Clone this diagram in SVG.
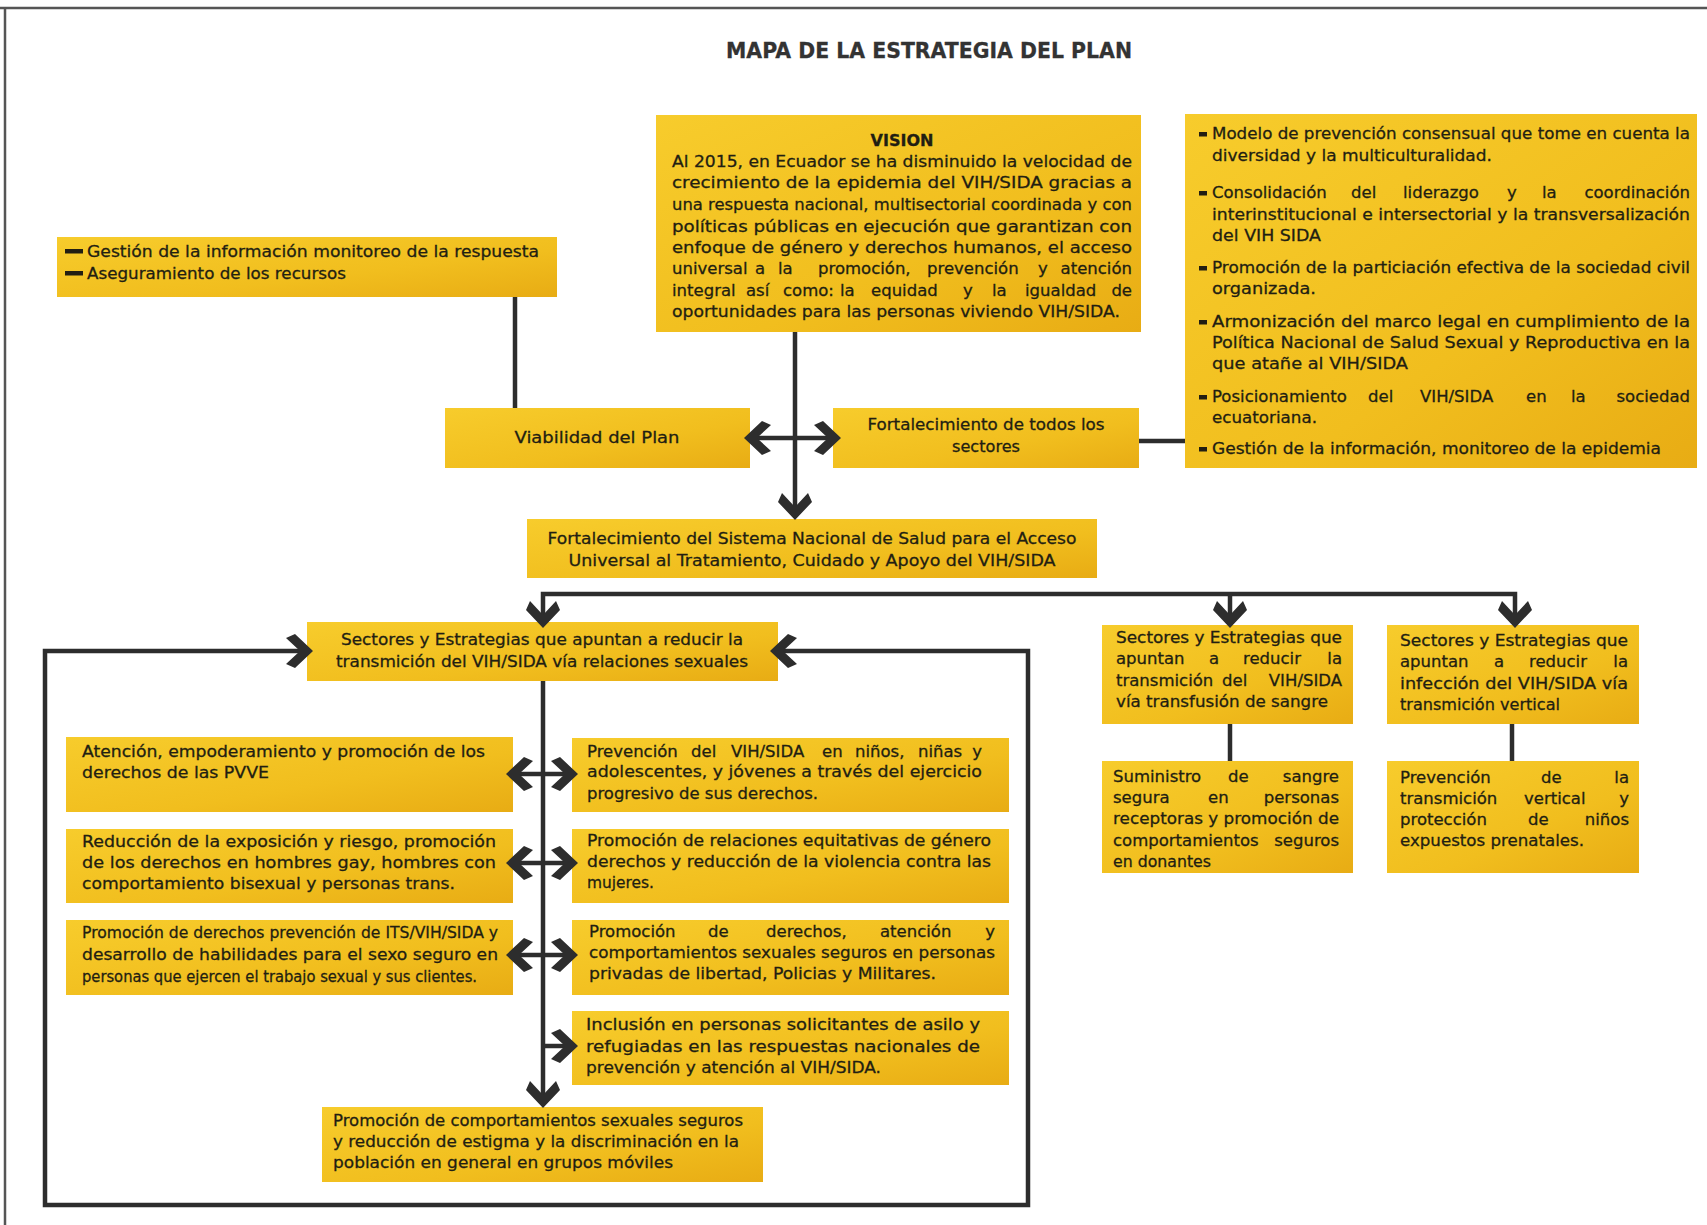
<svg xmlns="http://www.w3.org/2000/svg" width="1707" height="1225" viewBox="0 0 1707 1225">
<defs>
<linearGradient id="gold" x1="0" y1="0" x2="1" y2="1">
<stop offset="0" stop-color="#F7CC2C"/>
<stop offset="0.6" stop-color="#F1BE1E"/>
<stop offset="1" stop-color="#E8AC14"/>
</linearGradient>
<marker id="chev" markerUnits="userSpaceOnUse" markerWidth="40" markerHeight="40" viewBox="-30 -20 40 40" refX="-4" refY="0" orient="auto-start-reverse" overflow="visible">
<path d="M0,0 L-18,-17 L-27,-13 L-13,0 L-27,13 L-18,17 Z" fill="#2d2d2d"/>
</marker>
<style>
.box{fill:url(#gold);}
.t{font-family:"DejaVu Sans","Liberation Sans",sans-serif;font-size:16.5px;fill:#221e12;stroke:#221e12;stroke-width:0.3px;}
.c{text-anchor:middle;}
.e{text-anchor:end;}
.b{font-weight:bold;}
.bul{fill:#221e12;}
.ln{fill:none;stroke:#2d2d2d;stroke-width:4.5;}
.ar{marker-end:url(#chev);}
.ar2{marker-start:url(#chev);marker-end:url(#chev);}
</style>
</defs>
<rect x="0" y="0" width="1707" height="1225" fill="#ffffff"/>
<g id="frame">
<line x1="0" y1="8" x2="1707" y2="8" stroke="#555" stroke-width="2.5"/>
<line x1="5" y1="8" x2="5" y2="1225" stroke="#555" stroke-width="2.5"/>
</g>
<g id="title">
<text class="t c b" x="929" y="58" style="font-size:22px;fill:#333;stroke:#333" textLength="406" lengthAdjust="spacingAndGlyphs">MAPA DE LA ESTRATEGIA DEL PLAN</text>
</g>

<g id="vision">
<rect class="box" x="656" y="115" width="485" height="217"/>
<text class="t c b" x="902" y="146" textLength="63" lengthAdjust="spacingAndGlyphs">VISION</text>
<text class="t" x="672" y="167" textLength="460" lengthAdjust="spacingAndGlyphs">Al 2015, en Ecuador se ha disminuido la velocidad de</text>
<text class="t" x="672" y="188" textLength="460" lengthAdjust="spacingAndGlyphs">crecimiento de la epidemia del VIH/SIDA gracias a</text>
<text class="t" x="672" y="210" textLength="460" lengthAdjust="spacingAndGlyphs">una respuesta nacional, multisectorial coordinada y con</text>
<text class="t" x="672" y="232" textLength="460" lengthAdjust="spacingAndGlyphs">políticas públicas en ejecución que garantizan con</text>
<text class="t" x="672" y="253" textLength="460" lengthAdjust="spacingAndGlyphs">enfoque de género y derechos humanos, el acceso</text>
<text class="t" y="274"><tspan x="672">universal</tspan> <tspan x="755">a</tspan> <tspan x="778">la</tspan> <tspan x="818">promoción,</tspan> <tspan x="927">prevención</tspan> <tspan x="1038">y</tspan> <tspan x="1132" class="e">atención</tspan></text>
<text class="t" y="296"><tspan x="672">integral</tspan> <tspan x="746">así</tspan> <tspan x="783">como:</tspan> <tspan x="840">la</tspan> <tspan x="871">equidad</tspan> <tspan x="963">y</tspan> <tspan x="992">la</tspan> <tspan x="1025">igualdad</tspan> <tspan x="1132" class="e">de</tspan></text>
<text class="t" x="672" y="317" textLength="448" lengthAdjust="spacingAndGlyphs">oportunidades para las personas viviendo VIH/SIDA.</text>
</g>

<g id="lineamientos">
<rect class="box" x="1185" y="114" width="512" height="354"/>
<rect class="bul" x="1199" y="132" width="8" height="4.5"/>
<rect class="bul" x="1199" y="191" width="8" height="4.5"/>
<rect class="bul" x="1199" y="266" width="8" height="4.5"/>
<rect class="bul" x="1199" y="320" width="8" height="4.5"/>
<rect class="bul" x="1199" y="395" width="8" height="4.5"/>
<rect class="bul" x="1199" y="447" width="8" height="4.5"/>
<text class="t" x="1212" y="139" textLength="478" lengthAdjust="spacingAndGlyphs">Modelo de prevención consensual que tome en cuenta la</text>
<text class="t" x="1212" y="161" textLength="280" lengthAdjust="spacingAndGlyphs">diversidad y la multiculturalidad.</text>
<text class="t" y="198"><tspan x="1212">Consolidación</tspan> <tspan x="1351">del</tspan> <tspan x="1403">liderazgo</tspan> <tspan x="1507">y</tspan> <tspan x="1542">la</tspan> <tspan x="1690" class="e">coordinación</tspan></text>
<text class="t" x="1212" y="220" textLength="478" lengthAdjust="spacingAndGlyphs">interinstitucional e intersectorial y la transversalización</text>
<text class="t" x="1212" y="241" textLength="109" lengthAdjust="spacingAndGlyphs">del VIH SIDA</text>
<text class="t" x="1212" y="273" textLength="478" lengthAdjust="spacingAndGlyphs">Promoción de la particiación efectiva de la sociedad civil</text>
<text class="t" x="1212" y="294" textLength="104" lengthAdjust="spacingAndGlyphs">organizada.</text>
<text class="t" x="1212" y="327" textLength="478" lengthAdjust="spacingAndGlyphs">Armonización del marco legal en cumplimiento de la</text>
<text class="t" x="1212" y="348" textLength="478" lengthAdjust="spacingAndGlyphs">Política Nacional de Salud Sexual y Reproductiva en la</text>
<text class="t" x="1212" y="369" textLength="196" lengthAdjust="spacingAndGlyphs">que atañe al VIH/SIDA</text>
<text class="t" y="402"><tspan x="1212">Posicionamiento</tspan> <tspan x="1368">del</tspan> <tspan x="1420">VIH/SIDA</tspan> <tspan x="1526">en</tspan> <tspan x="1571">la</tspan> <tspan x="1690" class="e">sociedad</tspan></text>
<text class="t" x="1212" y="423" textLength="105" lengthAdjust="spacingAndGlyphs">ecuatoriana.</text>
<text class="t" x="1212" y="454" textLength="449" lengthAdjust="spacingAndGlyphs">Gestión de la información, monitoreo de la epidemia</text>
</g>

<g id="gestion">
<rect class="box" x="57" y="237" width="500" height="60"/>
<rect class="bul" x="65" y="249" width="18" height="4.5"/>
<rect class="bul" x="65" y="271" width="18" height="4.5"/>
<text class="t" x="87" y="257" textLength="452" lengthAdjust="spacingAndGlyphs">Gestión de la información monitoreo de la respuesta</text>
<text class="t" x="87" y="279" textLength="259" lengthAdjust="spacingAndGlyphs">Aseguramiento de los recursos</text>
</g>

<g id="viabilidad">
<rect class="box" x="445" y="408" width="305" height="60"/>
<text class="t c" x="597" y="443" textLength="165" lengthAdjust="spacingAndGlyphs">Viabilidad del Plan</text>
</g>

<g id="fortalecimiento-sectores">
<rect class="box" x="833" y="408" width="306" height="60"/>
<text class="t c" x="986" y="430" textLength="237" lengthAdjust="spacingAndGlyphs">Fortalecimiento de todos los</text>
<text class="t c" x="986" y="452" textLength="68" lengthAdjust="spacingAndGlyphs">sectores</text>
</g>

<g id="fortalecimiento-sistema">
<rect class="box" x="527" y="519" width="570" height="59"/>
<text class="t c" x="812" y="544" textLength="529" lengthAdjust="spacingAndGlyphs">Fortalecimiento del Sistema Nacional de Salud para el Acceso</text>
<text class="t c" x="812" y="566" textLength="487" lengthAdjust="spacingAndGlyphs">Universal al Tratamiento, Cuidado y Apoyo del VIH/SIDA</text>
</g>

<g id="sectores-sexual">
<rect class="box" x="307" y="622" width="471" height="59"/>
<text class="t c" x="542" y="645" textLength="402" lengthAdjust="spacingAndGlyphs">Sectores y Estrategias que apuntan a reducir la</text>
<text class="t c" x="542" y="667" textLength="412" lengthAdjust="spacingAndGlyphs">transmición del VIH/SIDA vía relaciones sexuales</text>
</g>

<g id="atencion-pvve">
<rect class="box" x="66" y="737" width="447" height="75"/>
<text class="t" x="82" y="757" textLength="403" lengthAdjust="spacingAndGlyphs">Atención, empoderamiento y promoción de los</text>
<text class="t" x="82" y="778" textLength="187" lengthAdjust="spacingAndGlyphs">derechos de las PVVE</text>
</g>

<g id="reduccion-exposicion">
<rect class="box" x="66" y="829" width="447" height="74"/>
<text class="t" x="82" y="847" textLength="414" lengthAdjust="spacingAndGlyphs">Reducción de la exposición y riesgo, promoción</text>
<text class="t" x="82" y="868" textLength="414" lengthAdjust="spacingAndGlyphs">de los derechos en hombres gay, hombres con</text>
<text class="t" x="82" y="889" textLength="373" lengthAdjust="spacingAndGlyphs">comportamiento bisexual  y personas trans.</text>
</g>

<g id="promocion-its">
<rect class="box" x="66" y="920" width="447" height="75"/>
<text class="t" x="82" y="938" textLength="416" lengthAdjust="spacingAndGlyphs">Promoción de derechos prevención de ITS/VIH/SIDA y</text>
<text class="t" x="82" y="960" textLength="416" lengthAdjust="spacingAndGlyphs">desarrollo de habilidades para el sexo seguro en</text>
<text class="t" x="82" y="982" textLength="395" lengthAdjust="spacingAndGlyphs">personas que ejercen el trabajo sexual y sus clientes.</text>
</g>

<g id="prevencion-ninos">
<rect class="box" x="572" y="738" width="437" height="74"/>
<text class="t" y="757"><tspan x="587">Prevención</tspan> <tspan x="691">del</tspan> <tspan x="731">VIH/SIDA</tspan> <tspan x="822">en</tspan> <tspan x="855">niños,</tspan> <tspan x="918">niñas</tspan> <tspan x="982" class="e">y</tspan></text>
<text class="t" x="587" y="777" textLength="395" lengthAdjust="spacingAndGlyphs">adolescentes, y jóvenes a través del ejercicio</text>
<text class="t" x="587" y="799" textLength="231" lengthAdjust="spacingAndGlyphs">progresivo de sus derechos.</text>
</g>

<g id="relaciones-genero">
<rect class="box" x="572" y="829" width="437" height="74"/>
<text class="t" x="587" y="846" textLength="404" lengthAdjust="spacingAndGlyphs">Promoción de relaciones equitativas de género</text>
<text class="t" x="587" y="867" textLength="404" lengthAdjust="spacingAndGlyphs">derechos y reducción de la violencia contra las</text>
<text class="t" x="587" y="888" textLength="67" lengthAdjust="spacingAndGlyphs">mujeres.</text>
</g>

<g id="privadas-libertad">
<rect class="box" x="572" y="920" width="437" height="75"/>
<text class="t" y="937"><tspan x="589">Promoción</tspan> <tspan x="708">de</tspan> <tspan x="766">derechos,</tspan> <tspan x="880">atención</tspan> <tspan x="995" class="e">y</tspan></text>
<text class="t" x="589" y="958" textLength="406" lengthAdjust="spacingAndGlyphs">comportamientos sexuales seguros en personas</text>
<text class="t" x="589" y="979" textLength="347" lengthAdjust="spacingAndGlyphs">privadas de libertad, Policias y Militares.</text>
</g>

<g id="inclusion-asilo">
<rect class="box" x="572" y="1011" width="437" height="74"/>
<text class="t" x="586" y="1030" textLength="394" lengthAdjust="spacingAndGlyphs">Inclusión en personas solicitantes de asilo y</text>
<text class="t" x="586" y="1052" textLength="394" lengthAdjust="spacingAndGlyphs">refugiadas en las respuestas nacionales de</text>
<text class="t" x="586" y="1073" textLength="295" lengthAdjust="spacingAndGlyphs">prevención y atención al VIH/SIDA.</text>
</g>

<g id="grupos-moviles">
<rect class="box" x="322" y="1107" width="441" height="75"/>
<text class="t" x="333" y="1126" textLength="410" lengthAdjust="spacingAndGlyphs">Promoción de comportamientos sexuales seguros</text>
<text class="t" x="333" y="1147" textLength="406" lengthAdjust="spacingAndGlyphs">y reducción de estigma y la discriminación en la</text>
<text class="t" x="333" y="1168" textLength="340" lengthAdjust="spacingAndGlyphs">población en general en grupos móviles</text>
</g>

<g id="sectores-sangre">
<rect class="box" x="1102" y="625" width="251" height="99"/>
<text class="t" x="1116" y="643" textLength="226" lengthAdjust="spacingAndGlyphs">Sectores y Estrategias que</text>
<text class="t" y="664"><tspan x="1116">apuntan</tspan> <tspan x="1209">a</tspan> <tspan x="1243">reducir</tspan> <tspan x="1342" class="e">la</tspan></text>
<text class="t" y="686"><tspan x="1116">transmición</tspan> <tspan x="1222">del</tspan> <tspan x="1342" class="e">VIH/SIDA</tspan></text>
<text class="t" x="1116" y="707" textLength="212" lengthAdjust="spacingAndGlyphs">vía transfusión de sangre</text>
</g>

<g id="sectores-vertical">
<rect class="box" x="1387" y="625" width="252" height="99"/>
<text class="t" x="1400" y="646" textLength="228" lengthAdjust="spacingAndGlyphs">Sectores y Estrategias que</text>
<text class="t" y="667"><tspan x="1400">apuntan</tspan> <tspan x="1494">a</tspan> <tspan x="1529">reducir</tspan> <tspan x="1628" class="e">la</tspan></text>
<text class="t" x="1400" y="689" textLength="228" lengthAdjust="spacingAndGlyphs">infección del VIH/SIDA vía</text>
<text class="t" x="1400" y="710" textLength="160" lengthAdjust="spacingAndGlyphs">transmición vertical</text>
</g>

<g id="suministro-sangre">
<rect class="box" x="1102" y="761" width="251" height="112"/>
<text class="t" y="782"><tspan x="1113">Suministro</tspan> <tspan x="1228">de</tspan> <tspan x="1339" class="e">sangre</tspan></text>
<text class="t" y="803"><tspan x="1113">segura</tspan> <tspan x="1208">en</tspan> <tspan x="1339" class="e">personas</tspan></text>
<text class="t" x="1113" y="824" textLength="226" lengthAdjust="spacingAndGlyphs">receptoras y promoción de</text>
<text class="t" y="846"><tspan x="1113">comportamientos</tspan> <tspan x="1339" class="e">seguros</tspan></text>
<text class="t" x="1113" y="867" textLength="98" lengthAdjust="spacingAndGlyphs">en donantes</text>
</g>

<g id="prevencion-vertical">
<rect class="box" x="1387" y="761" width="252" height="112"/>
<text class="t" y="783"><tspan x="1400">Prevención</tspan> <tspan x="1541">de</tspan> <tspan x="1629" class="e">la</tspan></text>
<text class="t" y="804"><tspan x="1400">transmición</tspan> <tspan x="1524">vertical</tspan> <tspan x="1629" class="e">y</tspan></text>
<text class="t" y="825"><tspan x="1400">protección</tspan> <tspan x="1528">de</tspan> <tspan x="1629" class="e">niños</tspan></text>
<text class="t" x="1400" y="846" textLength="184" lengthAdjust="spacingAndGlyphs">expuestos prenatales.</text>
</g>

<g id="connectors">
<line class="ln" x1="515" y1="297" x2="515" y2="408"/>
<line class="ln" x1="1139" y1="441" x2="1185" y2="441"/>
<line class="ln ar" x1="795" y1="332" x2="795" y2="516"/>
<line class="ln ar2" x1="748" y1="438" x2="837" y2="438"/>
<path class="ln ar2" d="M543,624 V594 H1515 V624"/>
<line class="ln ar" x1="1230" y1="594" x2="1230" y2="624"/>
<path class="ln ar2" d="M309,651 H45 V1205 H1028 V651 H774"/>
<line class="ln ar" x1="543" y1="681" x2="543" y2="1104"/>
<line class="ln ar2" x1="510" y1="774" x2="574" y2="774"/>
<line class="ln ar2" x1="510" y1="863" x2="574" y2="863"/>
<line class="ln ar2" x1="510" y1="955" x2="574" y2="955"/>
<line class="ln ar" x1="543" y1="1046" x2="574" y2="1046"/>
<line class="ln" x1="1230" y1="724" x2="1230" y2="761"/>
<line class="ln" x1="1512" y1="724" x2="1512" y2="761"/>
</g>
</svg>
